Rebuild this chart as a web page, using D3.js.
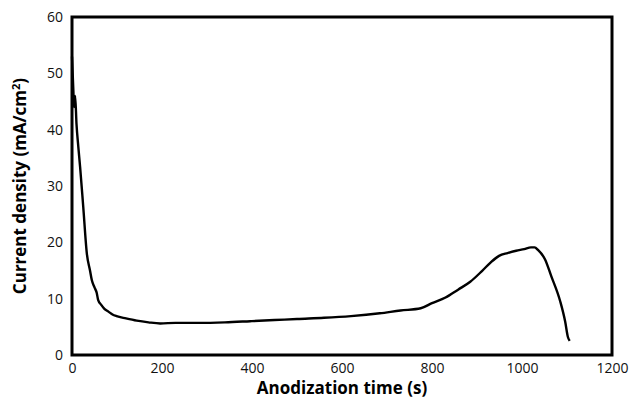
<!DOCTYPE html>
<html><head><meta charset="utf-8">
<script src="https://cdn.jsdelivr.net/npm/d3@7"></script>
<style>body{margin:0;background:#fff}svg{display:block}</style>
</head><body>
<script>
const times = [0,3,4.5,7,10,14,18,25,33,40,44,50,55,58,65,72,81,90,99,120,144,170,196,230,284,340,396,450,500,560,620,684,730,775,800,830,858,885,911,930,949,968,987,1005,1020,1028,1036,1051,1065,1085,1096,1102,1106];
const current = [53,47,44,46,41,37,33.4,26.3,18,15,13.3,12,11,9.8,8.9,8.2,7.7,7.2,6.9,6.5,6.1,5.8,5.6,5.7,5.7,5.8,6.0,6.2,6.4,6.6,6.9,7.4,7.9,8.3,9.2,10.2,11.6,13.0,14.9,16.4,17.6,18.1,18.5,18.8,19.1,19.1,18.6,17.0,14.0,9.5,5.9,3.2,2.5];
const xTicks = [0,200,400,600,800,1000,1200];
const yTicks = [0,10,20,30,40,50,60];

const W = 632, H = 405;
const m = {l:72, r:20, t:17, b:50};
const svg = d3.select("body").append("svg").attr("width",W).attr("height",H);
const x = d3.scaleLinear().domain([0,1200]).range([m.l, W-m.r]);
const y = d3.scaleLinear().domain([0,60]).range([H-m.b, m.t]);
const font = "'Open Sans', sans-serif";

const xa = svg.append("g").attr("transform",`translate(0,${H-m.b})`)
  .call(d3.axisBottom(x).tickValues(xTicks).tickFormat(d3.format("d")).tickSize(0).tickPadding(8));
const ya = svg.append("g").attr("transform",`translate(${m.l},0)`)
  .call(d3.axisLeft(y).tickValues(yTicks).tickFormat(d3.format("d")).tickSize(0).tickPadding(9));
[xa,ya].forEach(a=>{a.select(".domain").remove();a.selectAll("text").attr("font-family",font).attr("font-size",14).attr("fill","#111");});

svg.append("path").datum(times.map((t,i)=>[t,current[i]]))
  .attr("fill","none").attr("stroke","#000").attr("stroke-width",2.4).attr("stroke-linejoin","round")
  .attr("d", d3.line().x(d=>x(d[0])).y(d=>y(d[1])).curve(d3.curveMonotoneX));

svg.append("rect").attr("x",m.l).attr("y",m.t).attr("width",W-m.r-m.l).attr("height",H-m.b-m.t)
  .attr("fill","none").attr("stroke","#000").attr("stroke-width",3);

svg.append("text").attr("x",(m.l+W-m.r)/2).attr("y",394).attr("text-anchor","middle")
  .attr("font-family",font).attr("font-weight","bold").attr("font-size",17).text("Anodization time (s)");
svg.append("text").attr("transform",`translate(26,${(m.t+H-m.b)/2}) rotate(-90)`).attr("text-anchor","middle")
  .attr("font-family",font).attr("font-weight","bold").attr("font-size",17)
  .html("Current density (mA/cm<tspan dy='-6' font-size='11'>2</tspan><tspan dy='6'>)</tspan>");
</script>
</body></html>
